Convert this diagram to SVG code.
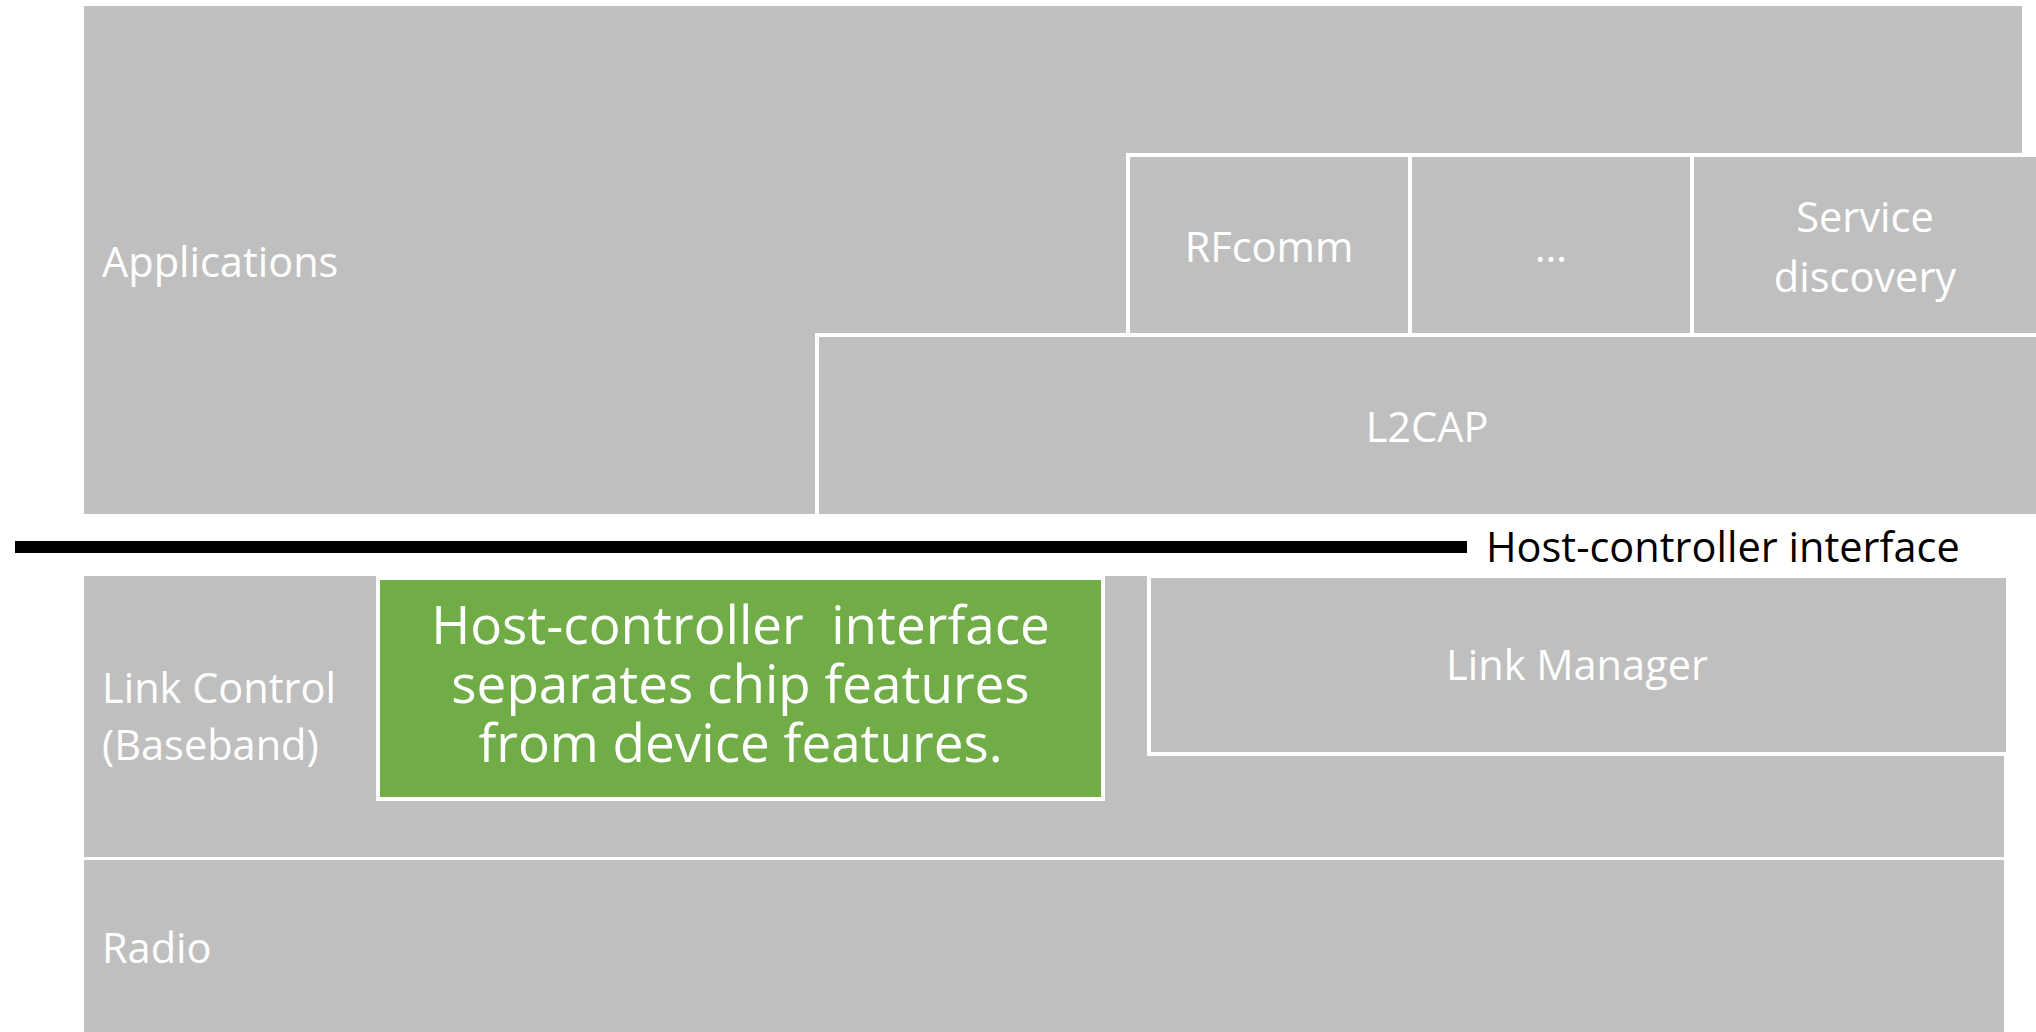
<svg xmlns="http://www.w3.org/2000/svg" width="2036" height="1032" viewBox="0 0 2036 1032">
<style>
.g{fill:#bfbfbf}
.b{fill:#bfbfbf;stroke:#ffffff;stroke-width:4}
.t{font-family:"Open Sans","Noto Sans","Liberation Sans",sans-serif;font-size:41.5px;fill:#ffffff}
.c{text-anchor:middle}
.k{font-family:"Open Sans","Noto Sans","Liberation Sans",sans-serif;font-size:41.5px;fill:#000000}
.w{font-family:"Open Sans","Noto Sans","Liberation Sans",sans-serif;font-size:53px;fill:#ffffff;text-anchor:middle}
</style>
<rect width="2036" height="1032" fill="#ffffff"/>
<g id="applications">
<rect class="g" x="84" y="6" width="1938" height="508"/>
<text class="t" x="102" y="277">Applications</text>
</g>
<g id="l2cap">
<rect class="b" x="817" y="335" width="1230" height="181"/>
<text class="t c" x="1427" y="442">L2CAP</text>
</g>
<g id="rfcomm">
<rect class="b" x="1128" y="155" width="282" height="180"/>
<text class="t c" x="1269" y="262">RFcomm</text>
</g>
<g id="ellipsis">
<rect class="b" x="1410" y="155" width="282" height="180"/>
<text class="t c" x="1551" y="262">…</text>
</g>
<g id="service-discovery">
<rect class="b" x="1692" y="155" width="360" height="180"/>
<text class="t c" x="1865" y="232">Service</text>
<text class="t c" x="1865" y="292">discovery</text>
</g>
<g id="hci-line">
<rect x="15" y="541" width="1452" height="12" fill="#000000"/>
<text class="k" x="1486" y="562">Host-controller interface</text>
</g>
<g id="link-control">
<rect class="g" x="84" y="576" width="1920" height="281"/>
<text class="t" x="102" y="703">Link Control</text>
<text class="t" x="102" y="760">(Baseband)</text>
</g>
<g id="link-manager">
<rect class="b" x="1149" y="576" width="859" height="178"/>
<text class="t c" x="1577" y="680">Link Manager</text>
</g>
<g id="hci-note">
<rect x="378" y="578" width="725" height="221" fill="#70ad47" stroke="#ffffff" stroke-width="4"/>
<text class="w" x="740.5" y="644" xml:space="preserve">Host-controller  interface</text>
<text class="w" x="740.5" y="703">separates chip features</text>
<text class="w" x="740.5" y="762">from device features.</text>
</g>
<g id="radio">
<rect class="g" x="84" y="860" width="1920" height="180"/>
<text class="t" x="102" y="963">Radio</text>
</g>
</svg>
